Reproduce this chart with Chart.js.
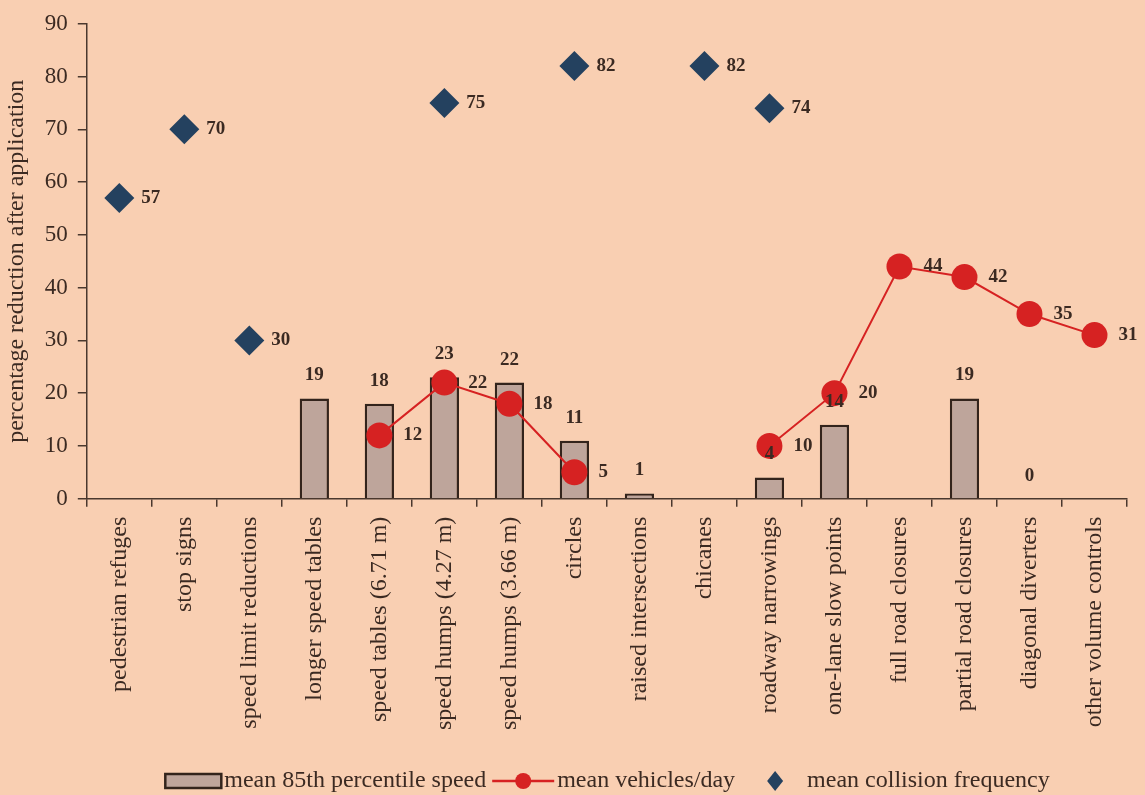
<!DOCTYPE html>
<html>
<head>
<meta charset="utf-8">
<script src="https://cdn.jsdelivr.net/npm/chart.js@4.4.1/dist/chart.umd.min.js"></script>
<style>
    html, body { margin: 0; padding: 0; background: #f9cfb2; }
    #wrap { width: 1145px; height: 795px; }
</style>
</head>
<body>
<div id="wrap"><canvas id="measuresChart" width="1145" height="795"></canvas></div>
<script>
const categories = [
    'pedestrian refuges', 'stop signs', 'speed limit reductions', 'longer speed tables',
    'speed tables (6.71 m)', 'speed humps (4.27 m)', 'speed humps (3.66 m)', 'circles',
    'raised intersections', 'chicanes', 'roadway narrowings', 'one-lane slow points',
    'full road closures', 'partial road closures', 'diagonal diverters', 'other volume controls'
];
const speed85 = [null, null, null, 19, 18, 23, 22, 11, 1, null, 4, 14, null, 19, 0, null];
const vehiclesPerDay = [null, null, null, null, 12, 22, 18, 5, null, null, 10, 20, 44, 42, 35, 31];
const collisionFreq = [57, 70, 30, null, null, 75, null, 82, null, 82, 74, null, null, null, null, null];
const yTicks = [0, 10, 20, 30, 40, 50, 60, 70, 80, 90];

const BG = '#f9cfb2';
const INK = '#3b2a22';
const BAR_FILL = '#bea59b';
const BAR_EDGE = '#33241c';
const RED = '#d62222';
const NAVY = '#24415f';
const SERIF = '"Liberation Serif", "Times New Roman", serif';

// paint the peach background behind everything
const background = {
    id: 'background',
    beforeDraw(chart) {
        const ctx = chart.ctx;
        ctx.save();
        ctx.fillStyle = BG;
        ctx.fillRect(0, 0, chart.width, chart.height);
        ctx.restore();
    }
};

// value labels: above bars, right of line points and diamonds
const valueLabels = {
    id: 'valueLabels',
    afterDatasetsDraw(chart) {
        const ctx = chart.ctx;
        ctx.save();
        ctx.font = 'bold 19px ' + SERIF;
        ctx.fillStyle = INK;
        ctx.textBaseline = 'middle';
        chart.data.datasets.forEach((ds, i) => {
            const meta = chart.getDatasetMeta(i);
            meta.data.forEach((el, j) => {
                const v = ds.data[j];
                if (v === null || v === undefined) return;
                if (ds.type === 'bar') {
                    ctx.textAlign = 'center';
                    ctx.fillText(String(v), el.x, el.y - 23);
                } else if (ds.showLine) {
                    ctx.textAlign = 'left';
                    ctx.fillText(String(v), el.x + 24, el.y);
                } else {
                    ctx.textAlign = 'left';
                    ctx.fillText(String(v), el.x + 22, el.y);
                }
            });
        });
        ctx.restore();
    }
};

// legend row along the bottom edge
const bottomLegend = {
    id: 'bottomLegend',
    afterDraw(chart) {
        const ctx = chart.ctx;
        const y = 781;
        ctx.save();
        ctx.font = '24px ' + SERIF;
        ctx.textBaseline = 'middle';
        ctx.textAlign = 'left';
        const ds = chart.data.datasets;
        const items = [
            { w: 56, gap: 3, label: ds[0].label },
            { w: 62, gap: 3, label: ds[1].label },
            { w: 16, gap: 24, label: ds[2].label }
        ];
        const spacing = [6, 32, 0];
        let total = 0;
        items.forEach((it, k) => {
            total += it.w + it.gap + ctx.measureText(it.label).width + spacing[k];
        });
        let x = (chart.width - total) / 2 + 35;
        items.forEach((it, k) => {
            if (k === 0) {
                ctx.fillStyle = BAR_FILL;
                ctx.strokeStyle = BAR_EDGE;
                ctx.lineWidth = 2.5;
                ctx.fillRect(x, y - 7, it.w, 14);
                ctx.strokeRect(x, y - 7, it.w, 14);
            } else if (k === 1) {
                ctx.strokeStyle = RED;
                ctx.lineWidth = 2.5;
                ctx.beginPath();
                ctx.moveTo(x, y);
                ctx.lineTo(x + it.w, y);
                ctx.stroke();
                ctx.fillStyle = RED;
                ctx.beginPath();
                ctx.arc(x + it.w / 2, y, 8, 0, Math.PI * 2);
                ctx.fill();
            } else {
                ctx.fillStyle = NAVY;
                ctx.beginPath();
                ctx.moveTo(x + it.w / 2, y - 10);
                ctx.lineTo(x + it.w, y);
                ctx.lineTo(x + it.w / 2, y + 10);
                ctx.lineTo(x, y);
                ctx.closePath();
                ctx.fill();
            }
            x += it.w + it.gap;
            ctx.fillStyle = INK;
            ctx.fillText(it.label, x, y);
            x += ctx.measureText(it.label).width + spacing[k];
        });
        ctx.restore();
    }
};

const ctx = document.getElementById('measuresChart').getContext('2d');
const measuresChart = new Chart(ctx, {
    type: 'bar',
    data: {
        labels: categories,
        datasets: [
            {
                type: 'bar',
                label: 'mean 85th percentile speed',
                data: speed85,
                backgroundColor: BAR_FILL,
                borderColor: BAR_EDGE,
                borderWidth: 2.5,
                barPercentage: 0.45,
                categoryPercentage: 1,
                order: 3
            },
            {
                type: 'line',
                label: 'mean vehicles/day',
                data: vehiclesPerDay,
                borderColor: RED,
                backgroundColor: RED,
                borderWidth: 2,
                pointRadius: 13,
                pointHoverRadius: 13,
                pointBorderWidth: 0,
                showLine: true,
                spanGaps: false,
                tension: 0,
                order: 2
            },
            {
                type: 'line',
                label: 'mean collision frequency',
                data: collisionFreq,
                showLine: false,
                pointStyle: 'rectRot',
                pointRadius: 15,
                pointHoverRadius: 15,
                backgroundColor: NAVY,
                borderColor: NAVY,
                pointBorderWidth: 0,
                order: 1
            }
        ]
    },
    options: {
        responsive: false,
        animation: false,
        layout: {
            padding: { top: 10, right: 18, bottom: 55, left: 2 }
        },
        plugins: {
            legend: { display: false },
            tooltip: { enabled: false }
        },
        scales: {
            x: {
                offset: true,
                grid: {
                    offset: true,
                    drawOnChartArea: false,
                    drawTicks: true,
                    tickLength: 8,
                    color: '#4a382e',
                    lineWidth: 1.5
                },
                border: { display: true, color: '#4a382e', width: 1.5 },
                ticks: {
                    color: INK,
                    font: { family: SERIF, size: 24 },
                    maxRotation: 90,
                    minRotation: 90,
                    autoSkip: false,
                    padding: 10
                }
            },
            y: {
                min: 0,
                max: 90,
                afterBuildTicks(axis) {
                    axis.ticks = yTicks.map(v => ({ value: v }));
                },
                grid: {
                    drawOnChartArea: false,
                    drawTicks: true,
                    tickLength: 9,
                    color: '#4a382e',
                    lineWidth: 1.5
                },
                border: { display: true, color: '#4a382e', width: 1.5 },
                ticks: {
                    color: INK,
                    font: { family: SERIF, size: 23 },
                    padding: 10
                },
                title: {
                    display: true,
                    text: 'percentage reduction after application',
                    color: INK,
                    font: { family: SERIF, size: 24 },
                    padding: { top: 0, bottom: 4 }
                }
            }
        }
    },
    plugins: [background, valueLabels, bottomLegend]
});
</script>
</body>
</html>
